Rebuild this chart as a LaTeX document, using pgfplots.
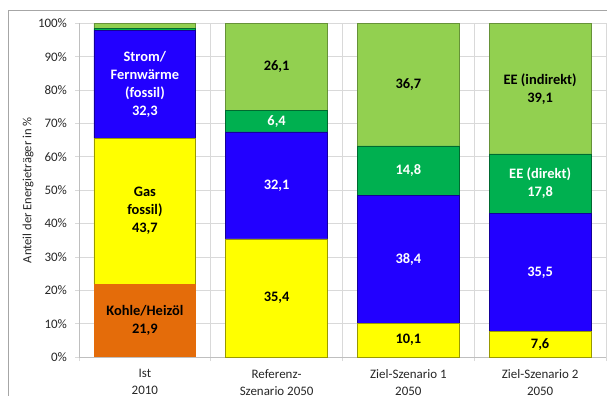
\documentclass[border=0pt]{standalone}
\usepackage{pgfplots}
\pgfplotsset{compat=1.18}
\usepackage{fontspec}
\setmainfont{Carlito}
\definecolor{cKohle}{HTML}{E46C0A}
\definecolor{cGas}{HTML}{FFFF00}
\definecolor{cStrom}{HTML}{2200FF}
\definecolor{cEEd}{HTML}{00B050}
\definecolor{cEEi}{HTML}{92D050}
\definecolor{cGrid}{HTML}{D9D9D9}
\definecolor{cAxis}{HTML}{BFBFBF}
\definecolor{cFrame}{HTML}{A6A6A6}
\tikzset{lbl/.style={align=center, font=\fontsize{14.5}{18}\selectfont\bfseries}}
\begin{document}
\begin{tikzpicture}
\path[use as bounding box] (0,0) rectangle (607bp,396bp);
\draw[cFrame, line width=0.8bp] (8bp,-5bp) -- (8bp,385.5bp) -- (620bp,385.5bp);
\node[anchor=base west, font=\fontsize{20.5}{24}\selectfont\bfseries, inner sep=0pt] at (28bp,399.5bp) {Entwicklung der Anteile am Wärmebedarf nach den Energieträgern};
\begin{axis}[
  at={(79bp,39bp)}, anchor=south west,
  scale only axis, width=527bp, height=333.5bp,
  xmin=0, xmax=4, ymin=0, ymax=100,
  ybar stacked, bar width=0.773,
  axis x line*=bottom, axis y line*=left,
  axis line style={cAxis, line width=0.8bp, -},
  tick align=outside,
  xtick={0.5,1.5,2.5,3.5},
  xticklabels={{Ist\\2010},{Referenz-\\Szenario 2050},{Ziel-Szenario 1\\2050},{Ziel-Szenario 2\\2050}},
  xticklabel style={align=center, font=\fontsize{13}{17}\selectfont, text=black!85, yshift=-5bp},
  minor xtick={0,1,2,3,4},
  major x tick style={draw=none},
  minor x tick style={cGrid, line width=0.8bp},
  xminorgrids, minor x grid style={cGrid, line width=0.8bp},
  ytick={0,10,...,100},
  yticklabel={\pgfmathprintnumber{\tick}\%},
  /pgf/number format/assume math mode=true,
  yticklabel style={font=\fontsize{13}{15}\selectfont, text=black!85, xshift=-4.5bp},
  ymajorgrids, major y grid style={cGrid, line width=0.8bp},
  major y tick style={cGrid, line width=0.8bp},
  major tick length=4bp, minor tick length=4bp,
  ylabel={Anteil der Energieträger in \%},
  every axis y label/.style={at={(axis description cs:-0.0968,0.5)}, rotate=90, anchor=center, font=\fontsize{12.6}{14}\selectfont, text=black!85},
]
\addplot[fill=cKohle, draw=none] coordinates {(0.5,21.9) (1.5,0) (2.5,0) (3.5,0)};
\addplot[fill=cGas, draw=cGas!60!black, line width=0.6bp] coordinates {(0.5,43.7) (1.5,35.4) (2.5,10.1) (3.5,7.6)};
\addplot[fill=cStrom, draw=cStrom!60!black, line width=0.6bp] coordinates {(0.5,32.3) (1.5,32.1) (2.5,38.4) (3.5,35.5)};
\addplot[fill=cEEd, draw=cEEd!60!black, line width=0.6bp] coordinates {(0.5,0.6) (1.5,6.4) (2.5,14.8) (3.5,17.8)};
\addplot[fill=cEEi, draw=cEEi!70!black, line width=0.6bp] coordinates {(0.5,1.5) (1.5,26.1) (2.5,36.7) (3.5,39.1)};
\coordinate (k1) at (axis cs:0.5,10.95);
\coordinate (g1) at (axis cs:0.5,43.75);
\coordinate (s1) at (axis cs:0.5,81.75);
\coordinate (g2) at (axis cs:1.5,17.7);
\coordinate (s2) at (axis cs:1.5,51.45);
\coordinate (d2) at (axis cs:1.5,70.7);
\coordinate (i2) at (axis cs:1.5,86.95);
\coordinate (g3) at (axis cs:2.5,5.05);
\coordinate (s3) at (axis cs:2.5,29.3);
\coordinate (d3) at (axis cs:2.5,55.9);
\coordinate (i3) at (axis cs:2.5,81.65);
\coordinate (g4) at (axis cs:3.5,3.8);
\coordinate (s4) at (axis cs:3.5,25.35);
\coordinate (d4) at (axis cs:3.5,52.0);
\coordinate (i4) at (axis cs:3.5,80.45);
\end{axis}
\node[lbl] at (k1) {Kohle/Heizöl\\21,9};
\node[lbl] at (g1) {Gas\\fossil)\\43,7};
\node[lbl, text=white] at (s1) {Strom/\\Fernwärme\\(fossil)\\32,3};
\node[lbl] at (g2) {35,4};
\node[lbl, text=white] at (s2) {32,1};
\node[lbl, text=white] at (d2) {6,4};
\node[lbl] at (i2) {26,1};
\node[lbl] at (g3) {10,1};
\node[lbl, text=white] at (s3) {38,4};
\node[lbl, text=white] at (d3) {14,8};
\node[lbl] at (i3) {36,7};
\node[lbl] at (g4) {7,6};
\node[lbl, text=white] at (s4) {35,5};
\node[lbl, text=white] at (d4) {EE (direkt)\\17,8};
\node[lbl] at (i4) {EE (indirekt)\\39,1};
\end{tikzpicture}
\end{document}
